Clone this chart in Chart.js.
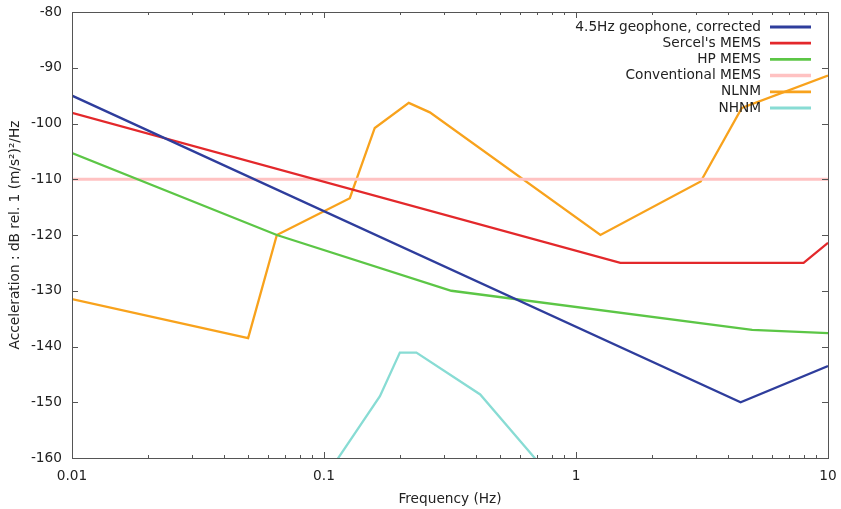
<!DOCTYPE html>
<html>
<head>
<meta charset="utf-8">
<script src="https://cdn.jsdelivr.net/npm/chart.js@4"></script>
<style>
  html, body { margin: 0; padding: 0; background: #fff; }
  #wrap { width: 841px; height: 509px; }
</style>
</head>
<body>
<div id="wrap"><canvas id="c" width="841" height="509"></canvas></div>
<script>
// frequencies (Hz) and levels (dB)
const geoFreq = [0.01, 4.5, 10];
const geoDb = [-95, -150, -143.5];

const sercelFreq = [0.01, 1.5, 8, 10];
const sercelDb = [-98.1, -125, -125, -121.4];

const hpFreq = [0.01, 0.065, 0.32, 5, 10];
const hpDb = [-105.3, -120, -130, -137, -137.6];

const convFreq = [0.01, 10];
const convDb = [-110, -110];

const nlnmFreq = [0.01, 0.05, 0.065, 0.1266, 0.159, 0.217, 0.263, 1.25, 3.125, 4.55, 10];
const nlnmDb = [-131.5, -138.5, -120, -113.4, -100.8, -96.3, -98, -120, -110.4, -97.2, -91.4];

const nhnmFreq = [0.1, 0.1667, 0.2, 0.2326, 0.4167, 0.806];
const nhnmDb = [-163.8, -148.9, -141.1, -141.1, -148.6, -163.7];

const xMajor = [0.01, 0.1, 1, 10];
const yTicks = [-160, -150, -140, -130, -120, -110, -100, -90, -80];

const FONT = 'DejaVu Sans';
const FS = 13.7;
const TXT = '#222';

function pts(f, d) { return f.map((v, i) => ({ x: v, y: d[i] })); }

function series(label, f, d, color, width) {
  return {
    label: label,
    data: pts(f, d),
    borderColor: color,
    backgroundColor: color,
    borderWidth: width || 2.3,
    pointRadius: 0,
    showLine: true,
    tension: 0,
    clip: 0
  };
}

// inside tick marks + frame, gnuplot style
const framePlugin = {
  id: 'frame',
  afterDraw(chart) {
    const ctx = chart.ctx;
    const a = chart.chartArea;
    const xs = chart.scales.x, ys = chart.scales.y;
    ctx.save();
    ctx.strokeStyle = '#555';
    ctx.lineWidth = 1;
    ctx.beginPath();
    for (let e = -2; e < 1; e++) {
      for (let m = 1; m < 10; m++) {
        const v = m * Math.pow(10, e);
        const px = Math.round(xs.getPixelForValue(v)) + 0.5;
        const len = m === 1 ? 6 : 3;
        ctx.moveTo(px, a.bottom); ctx.lineTo(px, a.bottom - len);
        ctx.moveTo(px, a.top); ctx.lineTo(px, a.top + len);
      }
    }
    yTicks.forEach(v => {
      const py = Math.round(ys.getPixelForValue(v)) + 0.5;
      ctx.moveTo(a.left, py); ctx.lineTo(a.left + 6, py);
      ctx.moveTo(a.right, py); ctx.lineTo(a.right - 6, py);
    });
    ctx.stroke();
    ctx.strokeRect(Math.round(a.left) + 0.5, Math.round(a.top) + 0.5,
      Math.round(a.right - a.left), Math.round(a.bottom - a.top));
    ctx.restore();
  }
};

// key in the top right corner, text first then the sample line
const keyPlugin = {
  id: 'key',
  afterDatasetsDraw(chart) {
    const ctx = chart.ctx;
    const a = chart.chartArea;
    ctx.save();
    ctx.font = FS + 'px "' + FONT + '"';
    ctx.fillStyle = TXT;
    ctx.textAlign = 'right';
    ctx.textBaseline = 'middle';
    chart.data.datasets.forEach((ds, i) => {
      const y = a.top + 15 + i * 16.2;
      ctx.fillText(ds.label, a.right - 67, y);
      ctx.strokeStyle = ds.borderColor;
      ctx.lineWidth = ds.borderWidth + 0.5;
      ctx.beginPath();
      ctx.moveTo(a.right - 58, y);
      ctx.lineTo(a.right - 17, y);
      ctx.stroke();
    });
    ctx.restore();
  }
};

new Chart(document.getElementById('c'), {
  type: 'scatter',
  data: {
    datasets: [
      series('4.5Hz geophone, corrected', geoFreq, geoDb, '#2e3d9c'),
      series("Sercel's MEMS", sercelFreq, sercelDb, '#e3282b'),
      series('HP MEMS', hpFreq, hpDb, '#5cc646'),
      series('Conventional MEMS', convFreq, convDb, '#ffc2c2', 3),
      series('NLNM', nlnmFreq, nlnmDb, '#f8a21c'),
      series('NHNM', nhnmFreq, nhnmDb, '#88dcd4')
    ]
  },
  options: {
    responsive: false,
    animation: false,
    devicePixelRatio: 1,
    layout: { padding: { top: 12, right: 13, left: 0, bottom: 0 } },
    plugins: { legend: { display: false }, tooltip: { enabled: false } },
    scales: {
      x: {
        type: 'logarithmic',
        min: 0.01,
        max: 10,
        afterBuildTicks(s) { s.ticks = xMajor.map(v => ({ value: v })); },
        afterFit(s) { s.height = 51; s.paddingLeft = 0; s.paddingRight = 0; },
        grid: { display: false, drawTicks: false },
        border: { display: false },
        ticks: {
          padding: 10,
          maxRotation: 0,
          autoSkip: false,
          color: TXT,
          font: { family: FONT, size: FS },
          callback: v => String(v)
        },
        title: {
          display: true,
          text: 'Frequency (Hz)',
          color: TXT,
          font: { family: FONT, size: FS },
          padding: { top: 1, bottom: 1 }
        }
      },
      y: {
        min: -160,
        max: -80,
        afterBuildTicks(s) { s.ticks = yTicks.map(v => ({ value: v })); },
        afterFit(s) { s.width = 72; s.paddingTop = 0; s.paddingBottom = 0; },
        grid: { display: false, drawTicks: false },
        border: { display: false },
        ticks: {
          padding: 10,
          color: TXT,
          font: { family: FONT, size: FS }
        },
        title: {
          display: true,
          text: 'Acceleration : dB rel. 1 (m/s\u00b2)\u00b2/Hz',
          color: TXT,
          font: { family: FONT, size: FS },
          padding: { top: 7, bottom: 7 }
        }
      }
    }
  },
  plugins: [framePlugin, keyPlugin]
});
</script>
</body>
</html>
